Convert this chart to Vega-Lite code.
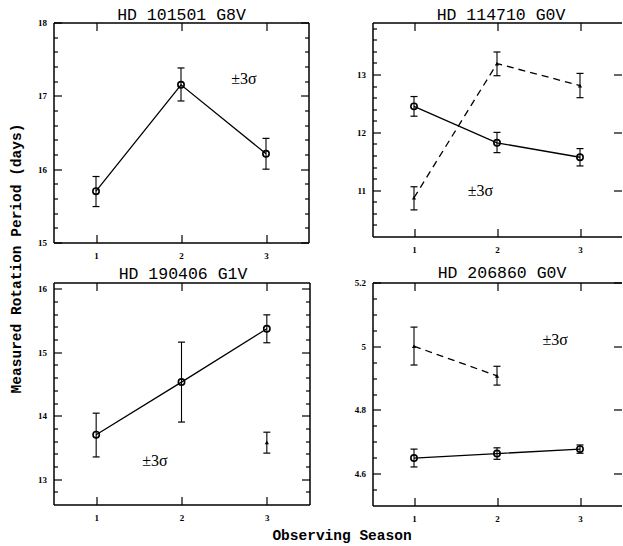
{
  "$schema": "https://vega.github.io/schema/vega-lite/v6.json",
  "padding": {"left": 7.5, "top": 5.5, "right": 0, "bottom": 3},
  "bounds": "flush",
  "columns": 2,
  "align": "each",
  "spacing": {"row": 40, "column": 63},
  "datasets": {
    "obs": [
      {"star": "101501", "series": "a", "season": 1, "period": 15.7, "lo": 15.49, "hi": 15.9},
      {"star": "101501", "series": "a", "season": 2, "period": 17.15, "lo": 16.93, "hi": 17.38},
      {"star": "101501", "series": "a", "season": 3, "period": 16.21, "lo": 16.0, "hi": 16.42},
      {"star": "114710", "series": "a", "season": 1, "period": 12.45, "lo": 12.28, "hi": 12.62},
      {"star": "114710", "series": "a", "season": 2, "period": 11.82, "lo": 11.65, "hi": 12.0},
      {"star": "114710", "series": "a", "season": 3, "period": 11.57, "lo": 11.42, "hi": 11.72},
      {"star": "114710", "series": "b", "season": 1, "period": 10.87, "lo": 10.66, "hi": 11.06},
      {"star": "114710", "series": "b", "season": 2, "period": 13.19, "lo": 12.98, "hi": 13.39},
      {"star": "114710", "series": "b", "season": 3, "period": 12.81, "lo": 12.6, "hi": 13.02},
      {"star": "190406", "series": "a", "season": 1, "period": 13.7, "lo": 13.35, "hi": 14.04},
      {"star": "190406", "series": "a", "season": 2, "period": 14.53, "lo": 13.9, "hi": 15.16},
      {"star": "190406", "series": "a", "season": 3, "period": 15.37, "lo": 15.15, "hi": 15.59},
      {"star": "190406", "series": "b", "season": 3, "period": 13.58, "lo": 13.41, "hi": 13.74},
      {"star": "206860", "series": "a", "season": 1, "period": 4.649, "lo": 4.621, "hi": 4.677},
      {"star": "206860", "series": "a", "season": 2, "period": 4.663, "lo": 4.645, "hi": 4.681},
      {"star": "206860", "series": "a", "season": 3, "period": 4.677, "lo": 4.664, "hi": 4.69},
      {"star": "206860", "series": "b", "season": 1, "period": 5.0, "lo": 4.941, "hi": 5.06},
      {"star": "206860", "series": "b", "season": 2, "period": 4.907, "lo": 4.878, "hi": 4.937}
    ],
    "notes": [
      {"star": "101501", "season": 2.74, "period": 17.23, "label": "±3σ"},
      {"star": "114710", "season": 1.8, "period": 10.98, "label": "±3σ"},
      {"star": "190406", "season": 1.69, "period": 13.29, "label": "±3σ"},
      {"star": "206860", "season": 2.7, "period": 5.02, "label": "±3σ"}
    ]
  },
  "concat": [
        {
          "width": 255, "height": 220,
          "resolve": {"axis": {"x": "independent", "y": "independent"}},
          "layer": [
            {"data": {"name": "obs"}, "transform": [{"filter": "datum.star==='101501' && datum.series==='a'"}],
             "mark": {"type": "line", "color": "black", "strokeWidth": 1.3},
             "encoding": {
               "x": {"field": "season", "type": "quantitative", "scale": {"domain": [0.5, 3.5], "nice": false, "zero": false}, "axis": {"orient": "bottom", "values": [1, 2, 3], "tickSize": -8, "labelPadding": 17, "title": null, "domain": true}},
               "y": {"field": "period", "type": "quantitative", "scale": {"domain": [15, 18], "nice": false, "zero": false}, "axis": {"orient": "left", "values": [15, 16, 17, 18], "tickSize": -8, "labelPadding": 15, "title": null, "domain": true}}}},
            {"data": {"name": "obs"}, "transform": [{"filter": "datum.star==='101501' && datum.series==='b'"}],
             "mark": {"type": "line", "color": "black", "strokeWidth": 1.3, "strokeDash": [7, 5]},
             "encoding": {
               "x": {"field": "season", "type": "quantitative", "scale": {"domain": [0.5, 3.5], "nice": false, "zero": false}, "axis": {"orient": "top", "values": [1, 2, 3], "tickSize": -8, "labels": false, "title": "HD 101501 G8V", "titleFont": "Liberation Mono", "titleFontWeight": "normal", "titleFontSize": 16.5, "titleY": -3.5, "titleBaseline": "alphabetic", "titleAlign": "center", "domain": true}},
               "y": {"field": "period", "type": "quantitative", "scale": {"domain": [15, 18], "nice": false, "zero": false}, "axis": {"orient": "right", "values": [15, 16, 17, 18], "tickSize": -8, "labels": false, "title": null, "domain": true}}}},
            {"data": {"name": "obs"}, "transform": [{"filter": "datum.star==='101501'"}],
             "mark": {"type": "rule", "color": "black", "strokeWidth": 1.1},
             "encoding": {
               "x": {"field": "season", "type": "quantitative", "scale": {"domain": [0.5, 3.5], "nice": false, "zero": false}, "axis": null},
               "y": {"field": "lo", "type": "quantitative", "scale": {"domain": [15, 18], "nice": false, "zero": false}, "axis": {"orient": "left", "values": [15.2, 15.4, 15.6, 15.8, 16.2, 16.4, 16.6, 16.8, 17.2, 17.4, 17.6, 17.8], "tickSize": -4, "labels": false, "title": null, "domain": false}},
               "y2": {"field": "hi"}}},
            {"data": {"name": "obs"}, "transform": [{"filter": "datum.star==='101501'"}],
             "mark": {"type": "tick", "orient": "horizontal", "size": 7, "thickness": 1.2, "color": "black", "opacity": 1},
             "encoding": {
               "x": {"field": "season", "type": "quantitative", "scale": {"domain": [0.5, 3.5], "nice": false, "zero": false}, "axis": null},
               "y": {"field": "lo", "type": "quantitative", "scale": {"domain": [15, 18], "nice": false, "zero": false}, "axis": {"orient": "right", "values": [15.2, 15.4, 15.6, 15.8, 16.2, 16.4, 16.6, 16.8, 17.2, 17.4, 17.6, 17.8], "tickSize": -4, "labels": false, "title": null, "domain": false}}}},
            {"data": {"name": "obs"}, "transform": [{"filter": "datum.star==='101501'"}],
             "mark": {"type": "tick", "orient": "horizontal", "size": 7, "thickness": 1.2, "color": "black", "opacity": 1},
             "encoding": {
               "x": {"field": "season", "type": "quantitative", "scale": {"domain": [0.5, 3.5], "nice": false, "zero": false}, "axis": null},
               "y": {"field": "hi", "type": "quantitative", "scale": {"domain": [15, 18], "nice": false, "zero": false}, "axis": null}}},
            {"data": {"name": "obs"}, "transform": [{"filter": "datum.star==='101501' && datum.series==='a'"}],
             "mark": {"type": "point", "shape": "circle", "filled": false, "size": 40, "strokeWidth": 1.6, "color": "black", "opacity": 1},
             "encoding": {
               "x": {"field": "season", "type": "quantitative", "scale": {"domain": [0.5, 3.5], "nice": false, "zero": false}, "axis": null},
               "y": {"field": "period", "type": "quantitative", "scale": {"domain": [15, 18], "nice": false, "zero": false}, "axis": null}}},
            {"data": {"name": "notes"}, "transform": [{"filter": "datum.star==='101501'"}],
             "mark": {"type": "text", "font": "Liberation Serif", "fontSize": 16, "color": "black", "align": "center", "baseline": "middle"},
             "encoding": {
               "x": {"field": "season", "type": "quantitative", "scale": {"domain": [0.5, 3.5], "nice": false, "zero": false}, "axis": null},
               "y": {"field": "period", "type": "quantitative", "scale": {"domain": [15, 18], "nice": false, "zero": false}, "axis": null},
               "text": {"field": "label"}}}
          ]
        },
        {
          "width": 249, "height": 214,
          "resolve": {"axis": {"x": "independent", "y": "independent"}},
          "layer": [
            {"data": {"name": "obs"}, "transform": [{"filter": "datum.star==='114710' && datum.series==='a'"}],
             "mark": {"type": "line", "color": "black", "strokeWidth": 1.3},
             "encoding": {
               "x": {"field": "season", "type": "quantitative", "scale": {"domain": [0.5, 3.5], "nice": false, "zero": false}, "axis": {"orient": "bottom", "values": [1, 2, 3], "tickSize": -8, "labelPadding": 17, "title": null, "domain": true}},
               "y": {"field": "period", "type": "quantitative", "scale": {"domain": [10.2, 13.9], "nice": false, "zero": false}, "axis": {"orient": "left", "values": [11, 12, 13], "tickSize": -8, "labelPadding": 15, "title": null, "domain": true}}}},
            {"data": {"name": "obs"}, "transform": [{"filter": "datum.star==='114710' && datum.series==='b'"}],
             "mark": {"type": "line", "color": "black", "strokeWidth": 1.3, "strokeDash": [7, 5]},
             "encoding": {
               "x": {"field": "season", "type": "quantitative", "scale": {"domain": [0.5, 3.5], "nice": false, "zero": false}, "axis": {"orient": "top", "values": [1, 2, 3], "tickSize": -8, "labels": false, "title": "HD 114710 G0V", "titleFont": "Liberation Mono", "titleFontWeight": "normal", "titleFontSize": 16.5, "titleY": -3.5, "titleX": 128, "titleBaseline": "alphabetic", "titleAlign": "center", "domain": true}},
               "y": {"field": "period", "type": "quantitative", "scale": {"domain": [10.2, 13.9], "nice": false, "zero": false}, "axis": {"orient": "right", "values": [11, 12, 13], "tickSize": -8, "labels": false, "title": null, "domain": false}}}},
            {"data": {"name": "obs"}, "transform": [{"filter": "datum.star==='114710'"}],
             "mark": {"type": "rule", "color": "black", "strokeWidth": 1.1},
             "encoding": {
               "x": {"field": "season", "type": "quantitative", "scale": {"domain": [0.5, 3.5], "nice": false, "zero": false}, "axis": null},
               "y": {"field": "lo", "type": "quantitative", "scale": {"domain": [10.2, 13.9], "nice": false, "zero": false}, "axis": {"orient": "left", "values": [10.4, 10.6, 10.8, 11.2, 11.4, 11.6, 11.8, 12.2, 12.4, 12.6, 12.8, 13.2, 13.4, 13.6, 13.8], "tickSize": -4, "labels": false, "title": null, "domain": false}},
               "y2": {"field": "hi"}}},
            {"data": {"name": "obs"}, "transform": [{"filter": "datum.star==='114710'"}],
             "mark": {"type": "tick", "orient": "horizontal", "size": 7, "thickness": 1.2, "color": "black", "opacity": 1},
             "encoding": {
               "x": {"field": "season", "type": "quantitative", "scale": {"domain": [0.5, 3.5], "nice": false, "zero": false}, "axis": null},
               "y": {"field": "lo", "type": "quantitative", "scale": {"domain": [10.2, 13.9], "nice": false, "zero": false}, "axis": null}}},
            {"data": {"name": "obs"}, "transform": [{"filter": "datum.star==='114710'"}],
             "mark": {"type": "tick", "orient": "horizontal", "size": 7, "thickness": 1.2, "color": "black", "opacity": 1},
             "encoding": {
               "x": {"field": "season", "type": "quantitative", "scale": {"domain": [0.5, 3.5], "nice": false, "zero": false}, "axis": null},
               "y": {"field": "hi", "type": "quantitative", "scale": {"domain": [10.2, 13.9], "nice": false, "zero": false}, "axis": null}}},
            {"data": {"name": "obs"}, "transform": [{"filter": "datum.star==='114710' && datum.series==='a'"}],
             "mark": {"type": "point", "shape": "circle", "filled": false, "size": 40, "strokeWidth": 1.6, "color": "black", "opacity": 1},
             "encoding": {
               "x": {"field": "season", "type": "quantitative", "scale": {"domain": [0.5, 3.5], "nice": false, "zero": false}, "axis": null},
               "y": {"field": "period", "type": "quantitative", "scale": {"domain": [10.2, 13.9], "nice": false, "zero": false}, "axis": null}}},
            {"data": {"name": "obs"}, "transform": [{"filter": "datum.star==='114710' && datum.series==='b'"}],
             "mark": {"type": "point", "shape": "triangle-up", "filled": true, "size": 18, "color": "black", "opacity": 1},
             "encoding": {
               "x": {"field": "season", "type": "quantitative", "scale": {"domain": [0.5, 3.5], "nice": false, "zero": false}, "axis": null},
               "y": {"field": "period", "type": "quantitative", "scale": {"domain": [10.2, 13.9], "nice": false, "zero": false}, "axis": null}}},
            {"data": {"name": "notes"}, "transform": [{"filter": "datum.star==='114710'"}],
             "mark": {"type": "text", "font": "Liberation Serif", "fontSize": 16, "color": "black", "align": "center", "baseline": "middle"},
             "encoding": {
               "x": {"field": "season", "type": "quantitative", "scale": {"domain": [0.5, 3.5], "nice": false, "zero": false}, "axis": null},
               "y": {"field": "period", "type": "quantitative", "scale": {"domain": [10.2, 13.9], "nice": false, "zero": false}, "axis": null},
               "text": {"field": "label"}}}
          ]
        },
        {
          "width": 256, "height": 222,
          "resolve": {"axis": {"x": "independent", "y": "independent"}},
          "layer": [
            {"data": {"name": "obs"}, "transform": [{"filter": "datum.star==='190406' && datum.series==='a'"}],
             "mark": {"type": "line", "color": "black", "strokeWidth": 1.3},
             "encoding": {
               "x": {"field": "season", "type": "quantitative", "scale": {"domain": [0.5, 3.5], "nice": false, "zero": false}, "axis": {"orient": "bottom", "values": [1, 2, 3], "tickSize": -8, "labelPadding": 17, "title": "Observing Season", "titleX": 288, "titleY": 30.5, "titleAlign": "center", "titleBaseline": "middle", "domain": true}},
               "y": {"field": "period", "type": "quantitative", "scale": {"domain": [12.6, 16.1], "nice": false, "zero": false}, "axis": {"orient": "left", "values": [13, 14, 15, 16], "tickSize": -8, "labelPadding": 15, "title": "Measured Rotation Period (days)", "titleX": -37, "titleY": -24.5, "titleAngle": -90, "titleAlign": "center", "titleBaseline": "middle", "domain": true}}}},
            {"data": {"name": "obs"}, "transform": [{"filter": "datum.star==='190406' && datum.series==='b'"}],
             "mark": {"type": "line", "color": "black", "strokeWidth": 1.3, "strokeDash": [7, 5]},
             "encoding": {
               "x": {"field": "season", "type": "quantitative", "scale": {"domain": [0.5, 3.5], "nice": false, "zero": false}, "axis": {"orient": "top", "values": [1, 2, 3], "tickSize": -8, "labels": false, "title": "HD 190406 G1V", "titleFont": "Liberation Mono", "titleFontWeight": "normal", "titleFontSize": 16.5, "titleY": -4.5, "titleX": 129, "titleBaseline": "alphabetic", "titleAlign": "center", "domain": true}},
               "y": {"field": "period", "type": "quantitative", "scale": {"domain": [12.6, 16.1], "nice": false, "zero": false}, "axis": {"orient": "right", "values": [13, 14, 15, 16], "tickSize": -8, "labels": false, "title": null, "domain": true}}}},
            {"data": {"name": "obs"}, "transform": [{"filter": "datum.star==='190406'"}],
             "mark": {"type": "rule", "color": "black", "strokeWidth": 1.1},
             "encoding": {
               "x": {"field": "season", "type": "quantitative", "scale": {"domain": [0.5, 3.5], "nice": false, "zero": false}, "axis": null},
               "y": {"field": "lo", "type": "quantitative", "scale": {"domain": [12.6, 16.1], "nice": false, "zero": false}, "axis": {"orient": "left", "values": [12.8, 13.2, 13.4, 13.6, 13.8, 14.2, 14.4, 14.6, 14.8, 15.2, 15.4, 15.6, 15.8], "tickSize": -4, "labels": false, "title": null, "domain": false}},
               "y2": {"field": "hi"}}},
            {"data": {"name": "obs"}, "transform": [{"filter": "datum.star==='190406'"}],
             "mark": {"type": "tick", "orient": "horizontal", "size": 7, "thickness": 1.2, "color": "black", "opacity": 1},
             "encoding": {
               "x": {"field": "season", "type": "quantitative", "scale": {"domain": [0.5, 3.5], "nice": false, "zero": false}, "axis": null},
               "y": {"field": "lo", "type": "quantitative", "scale": {"domain": [12.6, 16.1], "nice": false, "zero": false}, "axis": {"orient": "right", "values": [12.8, 13.2, 13.4, 13.6, 13.8, 14.2, 14.4, 14.6, 14.8, 15.2, 15.4, 15.6, 15.8], "tickSize": -4, "labels": false, "title": null, "domain": false}}}},
            {"data": {"name": "obs"}, "transform": [{"filter": "datum.star==='190406'"}],
             "mark": {"type": "tick", "orient": "horizontal", "size": 7, "thickness": 1.2, "color": "black", "opacity": 1},
             "encoding": {
               "x": {"field": "season", "type": "quantitative", "scale": {"domain": [0.5, 3.5], "nice": false, "zero": false}, "axis": null},
               "y": {"field": "hi", "type": "quantitative", "scale": {"domain": [12.6, 16.1], "nice": false, "zero": false}, "axis": null}}},
            {"data": {"name": "obs"}, "transform": [{"filter": "datum.star==='190406' && datum.series==='a'"}],
             "mark": {"type": "point", "shape": "circle", "filled": false, "size": 40, "strokeWidth": 1.6, "color": "black", "opacity": 1},
             "encoding": {
               "x": {"field": "season", "type": "quantitative", "scale": {"domain": [0.5, 3.5], "nice": false, "zero": false}, "axis": null},
               "y": {"field": "period", "type": "quantitative", "scale": {"domain": [12.6, 16.1], "nice": false, "zero": false}, "axis": null}}},
            {"data": {"name": "obs"}, "transform": [{"filter": "datum.star==='190406' && datum.series==='b'"}],
             "mark": {"type": "point", "shape": "triangle-up", "filled": true, "size": 18, "color": "black", "opacity": 1},
             "encoding": {
               "x": {"field": "season", "type": "quantitative", "scale": {"domain": [0.5, 3.5], "nice": false, "zero": false}, "axis": null},
               "y": {"field": "period", "type": "quantitative", "scale": {"domain": [12.6, 16.1], "nice": false, "zero": false}, "axis": null}}},
            {"data": {"name": "notes"}, "transform": [{"filter": "datum.star==='190406'"}],
             "mark": {"type": "text", "font": "Liberation Serif", "fontSize": 16, "color": "black", "align": "center", "baseline": "middle"},
             "encoding": {
               "x": {"field": "season", "type": "quantitative", "scale": {"domain": [0.5, 3.5], "nice": false, "zero": false}, "axis": null},
               "y": {"field": "period", "type": "quantitative", "scale": {"domain": [12.6, 16.1], "nice": false, "zero": false}, "axis": null},
               "text": {"field": "label"}}}
          ]
        },
        {
          "width": 249, "height": 223,
          "resolve": {"axis": {"x": "independent", "y": "independent"}},
          "layer": [
            {"data": {"name": "obs"}, "transform": [{"filter": "datum.star==='206860' && datum.series==='a'"}],
             "mark": {"type": "line", "color": "black", "strokeWidth": 1.3},
             "encoding": {
               "x": {"field": "season", "type": "quantitative", "scale": {"domain": [0.5, 3.5], "nice": false, "zero": false}, "axis": {"orient": "bottom", "values": [1, 2, 3], "tickSize": -8, "labelPadding": 17, "title": null, "domain": true}},
               "y": {"field": "period", "type": "quantitative", "scale": {"domain": [4.5, 5.2], "nice": false, "zero": false}, "axis": {"orient": "left", "values": [4.6, 4.8, 5.0, 5.2], "format": "~g", "tickSize": -8, "labelPadding": 15, "title": null, "domain": true}}}},
            {"data": {"name": "obs"}, "transform": [{"filter": "datum.star==='206860' && datum.series==='b'"}],
             "mark": {"type": "line", "color": "black", "strokeWidth": 1.3, "strokeDash": [7, 5]},
             "encoding": {
               "x": {"field": "season", "type": "quantitative", "scale": {"domain": [0.5, 3.5], "nice": false, "zero": false}, "axis": {"orient": "top", "values": [1, 2, 3], "tickSize": -8, "labels": false, "title": "HD 206860 G0V", "titleFont": "Liberation Mono", "titleFontWeight": "normal", "titleFontSize": 16.5, "titleY": -5, "titleX": 129, "titleBaseline": "alphabetic", "titleAlign": "center", "domain": true}},
               "y": {"field": "period", "type": "quantitative", "scale": {"domain": [4.5, 5.2], "nice": false, "zero": false}, "axis": {"orient": "right", "values": [4.6, 4.8, 5.0, 5.2], "tickSize": -8, "labels": false, "title": null, "domain": false}}}},
            {"data": {"name": "obs"}, "transform": [{"filter": "datum.star==='206860'"}],
             "mark": {"type": "rule", "color": "black", "strokeWidth": 1.1},
             "encoding": {
               "x": {"field": "season", "type": "quantitative", "scale": {"domain": [0.5, 3.5], "nice": false, "zero": false}, "axis": null},
               "y": {"field": "lo", "type": "quantitative", "scale": {"domain": [4.5, 5.2], "nice": false, "zero": false}, "axis": {"orient": "left", "values": [4.55, 4.65, 4.7, 4.75, 4.85, 4.9, 4.95, 5.05, 5.1, 5.15], "tickSize": -4, "labels": false, "title": null, "domain": false}},
               "y2": {"field": "hi"}}},
            {"data": {"name": "obs"}, "transform": [{"filter": "datum.star==='206860'"}],
             "mark": {"type": "tick", "orient": "horizontal", "size": 7, "thickness": 1.2, "color": "black", "opacity": 1},
             "encoding": {
               "x": {"field": "season", "type": "quantitative", "scale": {"domain": [0.5, 3.5], "nice": false, "zero": false}, "axis": null},
               "y": {"field": "lo", "type": "quantitative", "scale": {"domain": [4.5, 5.2], "nice": false, "zero": false}, "axis": null}}},
            {"data": {"name": "obs"}, "transform": [{"filter": "datum.star==='206860'"}],
             "mark": {"type": "tick", "orient": "horizontal", "size": 7, "thickness": 1.2, "color": "black", "opacity": 1},
             "encoding": {
               "x": {"field": "season", "type": "quantitative", "scale": {"domain": [0.5, 3.5], "nice": false, "zero": false}, "axis": null},
               "y": {"field": "hi", "type": "quantitative", "scale": {"domain": [4.5, 5.2], "nice": false, "zero": false}, "axis": null}}},
            {"data": {"name": "obs"}, "transform": [{"filter": "datum.star==='206860' && datum.series==='a'"}],
             "mark": {"type": "point", "shape": "circle", "filled": false, "size": 40, "strokeWidth": 1.6, "color": "black", "opacity": 1},
             "encoding": {
               "x": {"field": "season", "type": "quantitative", "scale": {"domain": [0.5, 3.5], "nice": false, "zero": false}, "axis": null},
               "y": {"field": "period", "type": "quantitative", "scale": {"domain": [4.5, 5.2], "nice": false, "zero": false}, "axis": null}}},
            {"data": {"name": "obs"}, "transform": [{"filter": "datum.star==='206860' && datum.series==='b'"}],
             "mark": {"type": "point", "shape": "triangle-up", "filled": true, "size": 18, "color": "black", "opacity": 1},
             "encoding": {
               "x": {"field": "season", "type": "quantitative", "scale": {"domain": [0.5, 3.5], "nice": false, "zero": false}, "axis": null},
               "y": {"field": "period", "type": "quantitative", "scale": {"domain": [4.5, 5.2], "nice": false, "zero": false}, "axis": null}}},
            {"data": {"name": "notes"}, "transform": [{"filter": "datum.star==='206860'"}],
             "mark": {"type": "text", "font": "Liberation Serif", "fontSize": 16, "color": "black", "align": "center", "baseline": "middle"},
             "encoding": {
               "x": {"field": "season", "type": "quantitative", "scale": {"domain": [0.5, 3.5], "nice": false, "zero": false}, "axis": null},
               "y": {"field": "period", "type": "quantitative", "scale": {"domain": [4.5, 5.2], "nice": false, "zero": false}, "axis": null},
               "text": {"field": "label"}}}
          ]
        }
  ],
  "config": {
    "background": "white",
    "view": {"stroke": null},
    "axis": {"grid": false, "domainColor": "black", "domainWidth": 1.5, "tickColor": "black", "tickWidth": 1.2, "labelFont": "Liberation Serif", "labelFontWeight": "bold", "labelFontSize": 9, "labelColor": "black", "labelFlush": false, "titleFont": "Liberation Mono", "titleFontWeight": "bold", "titleFontSize": 14.5, "titleColor": "black"}
  }
}
